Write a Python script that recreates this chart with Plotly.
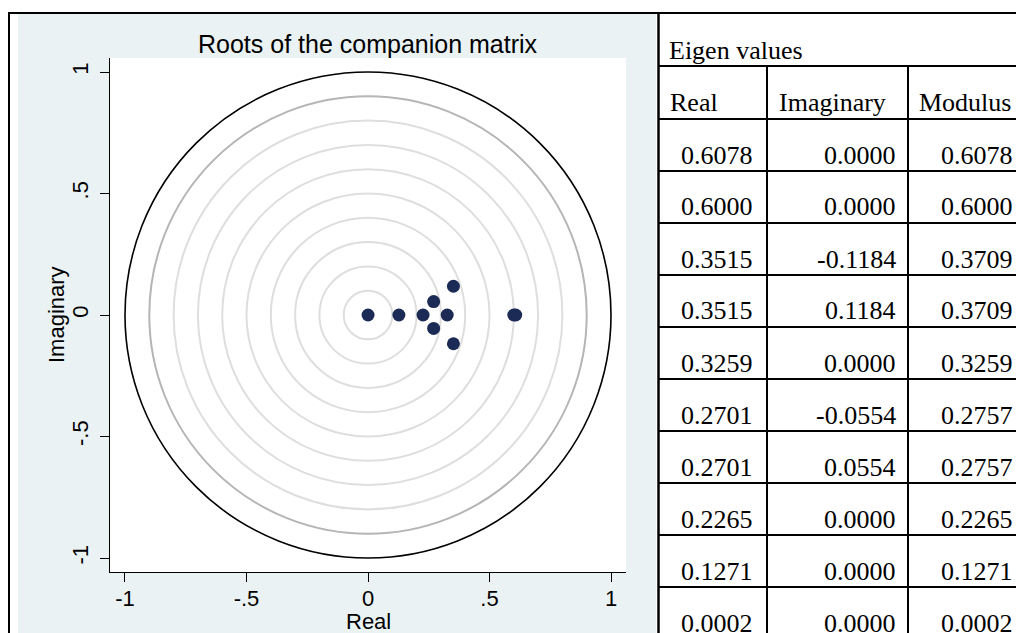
import plotly.graph_objects as go

W, H = 1016, 633

# ---- data ----
real = [0.6078, 0.6000, 0.3515, 0.3515, 0.3259, 0.2701, 0.2701, 0.2265, 0.1271, 0.0002]
imag = [0.0000, 0.0000, -0.1184, 0.1184, 0.0000, -0.0554, 0.0554, 0.0000, 0.0000, 0.0000]
modulus = [0.6078, 0.6000, 0.3709, 0.3709, 0.3259, 0.2757, 0.2757, 0.2265, 0.1271, 0.0002]
tick_vals = [-1, -0.5, 0, 0.5, 1]
tick_text = ["-1", "-.5", "0", ".5", "1"]
circle_radii = [0.1, 0.2, 0.3, 0.4, 0.5, 0.6, 0.7, 0.8, 0.9, 1.0]
table_title = "Eigen values"
table_header = ["Real", "Imaginary", "Modulus"]
chart_title = "Roots of the companion matrix"
x_title = "Real"
y_title = "Imaginary"

SANS = "Liberation Sans, Arial, sans-serif"
SERIF = "Liberation Serif, Times New Roman, serif"
BLUE_BG = "#EAF2F3"
NAVY = "#1c2b55"


def px(x):
    return x / W


def py(y):
    return 1 - y / H


shapes = []
# Stata graph region background
shapes.append(dict(type="rect", xref="paper", yref="paper", x0=px(18), x1=px(656),
                   y0=py(633), y1=py(14), fillcolor=BLUE_BG, line=dict(width=0), layer="below"))
# plot region
shapes.append(dict(type="rect", xref="paper", yref="paper", x0=px(110), x1=px(626),
                   y0=py(572), y1=py(58), fillcolor="white", line=dict(width=0), layer="below"))
# reference circles
for r in circle_radii:
    if r >= 0.999:
        col, w = "#000000", 1.6
    elif abs(r - 0.9) < 1e-6:
        col, w = "#b5b5b5", 2
    else:
        col, w = "#dedede", 2
    shapes.append(dict(type="circle", xref="x", yref="y", x0=-r, x1=r, y0=-r, y1=r,
                       line=dict(color=col, width=w), layer="below"))


# outer borders (document table)
def hline(y, x0, x1, w=2):
    shapes.append(dict(type="line", xref="paper", yref="paper", x0=px(x0), x1=px(x1),
                       y0=py(y), y1=py(y), line=dict(color="black", width=w)))


def vline(x, y0, y1, w=2):
    shapes.append(dict(type="line", xref="paper", yref="paper", x0=px(x), x1=px(x),
                       y0=py(y0), y1=py(y1), line=dict(color="black", width=w)))


hline(13, 8, W)
vline(9, 12, H)
vline(658.5, 12, H, 2.5)

# eigenvalue table grid
row_h = 52
title_bottom = 66
header_bottom = 119
first_bottom = 171
hline(title_bottom, 658, W)
hline(header_bottom, 658, W)
for i in range(len(real)):
    hline(first_bottom + row_h * i, 658, W)
col_edges = [767, 908]
for cx in col_edges:
    vline(cx, title_bottom, H)

annotations = []
# chart title and axis titles
annotations.append(dict(text=chart_title, x=px(368), y=py(44), xref="paper", yref="paper",
                        showarrow=False, xanchor="center", yanchor="middle",
                        font=dict(family=SANS, size=25, color="black")))
annotations.append(dict(text=x_title, x=px(368), y=py(621), xref="paper", yref="paper",
                        showarrow=False, xanchor="center", yanchor="middle",
                        font=dict(family=SANS, size=22, color="black")))
annotations.append(dict(text=y_title, x=px(57), y=py(315), xref="paper", yref="paper",
                        showarrow=False, xanchor="center", yanchor="middle", textangle=-90,
                        font=dict(family=SANS, size=22, color="black")))

# table text
tfont = dict(family=SERIF, size=26, color="black")
annotations.append(dict(text=table_title, x=px(667), y=py(title_bottom - 16), xref="paper", yref="paper",
                        showarrow=False, xanchor="left", yanchor="middle", font=tfont))
header_x = [668, 777, 917]
for hx, htxt in zip(header_x, table_header):
    annotations.append(dict(text=htxt, x=px(hx), y=py(header_bottom - 16), xref="paper", yref="paper",
                            showarrow=False, xanchor="left", yanchor="middle", font=tfont))
right_x = [755, 898, 1015]
for i, (re_, im_, mo_) in enumerate(zip(real, imag, modulus)):
    ycen = first_bottom + row_h * i - 16
    for rx, v in zip(right_x, (re_, im_, mo_)):
        annotations.append(dict(text=f"{v:.4f}", x=px(rx), y=py(ycen), xref="paper", yref="paper",
                                showarrow=False, xanchor="right", yanchor="middle", font=tfont))

fig = go.Figure()
fig.add_trace(go.Scatter(x=real, y=imag, mode="markers",
                         marker=dict(size=13, color=NAVY, line=dict(width=0)),
                         hoverinfo="x+y"))

axis_common = dict(showline=True, linecolor="black", linewidth=1,
                   ticks="outside", ticklen=9, tickcolor="black", tickwidth=1,
                   tickvals=tick_vals, ticktext=tick_text, showgrid=False, zeroline=False,
                   tickfont=dict(family=SANS, size=22, color="black"), fixedrange=True)

fig.update_layout(
    width=W, height=H, margin=dict(l=0, r=0, t=0, b=0),
    paper_bgcolor="white", plot_bgcolor="rgba(0,0,0,0)", showlegend=False,
    xaxis=dict(axis_common, domain=[px(110), px(626)], range=[-1.0617, 1.0617],
               ticklabelstandoff=-2),
    yaxis=dict(axis_common, domain=[py(572), py(58)], range=[-1.0576, 1.0576],
               tickangle=-90, ticklabelstandoff=3),
    shapes=shapes, annotations=annotations,
)

fig.write_html("out.html")
